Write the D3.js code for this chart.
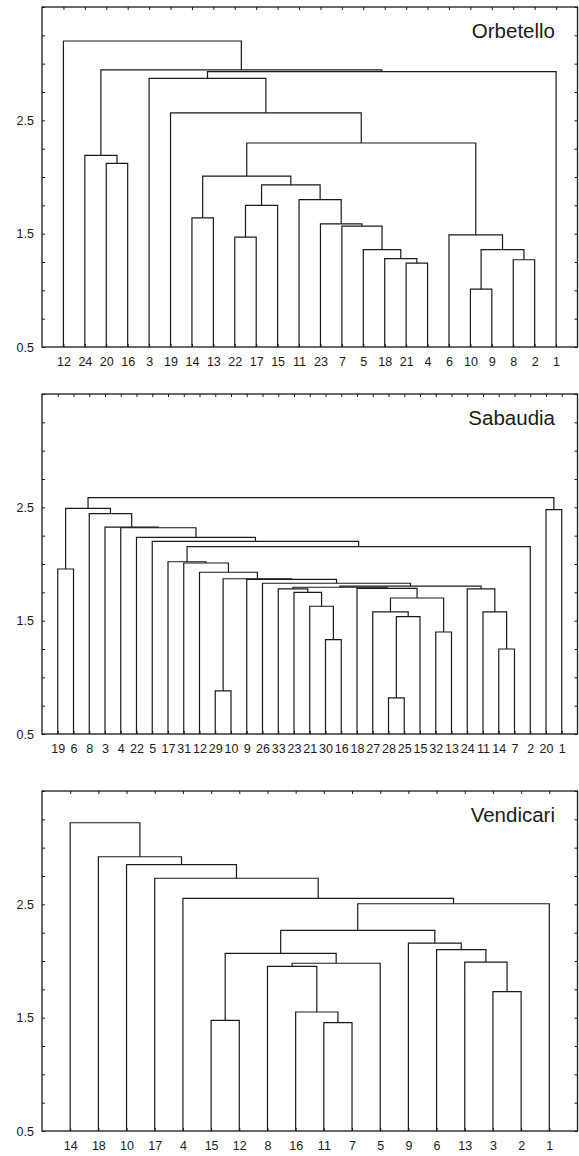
<!DOCTYPE html>
<html>
<head>
<meta charset="utf-8">
<script src="https://cdn.jsdelivr.net/npm/d3@7"></script>
<style>
  body { margin: 0; background: #fff; }
  svg { display: block; font-family: "Liberation Sans", Arial, sans-serif; }
</style>
</head>
<body>
<svg id="chart" width="579" height="1156"></svg>
<script>
// leaf order, left to right, and merge steps [left, right, linkage distance].
// "mN" points at merge N of the same list, plain numbers are leaves.
const orbetelloLeaves = [12,24,20,16,3,19,14,13,22,17,15,11,23,7,5,18,21,4,6,10,9,8,2,1];
const orbetelloMerges = [
  [20,16,2.12], [24,"m0",2.19], [14,13,1.64], [22,17,1.47], ["m3",15,1.75],
  [21,4,1.24], [18,"m5",1.28], [5,"m6",1.36], [7,"m7",1.566], [23,"m8",1.587],
  [11,"m9",1.80], ["m4","m10",1.93], ["m2","m11",2.007], [10,9,1.01], [8,2,1.27],
  ["m13","m14",1.36], [6,"m15",1.49], ["m12","m16",2.30], [19,"m17",2.565],
  [3,"m18",2.87], ["m19",1,2.93], ["m1","m20",2.945], [12,"m21",3.20]
];

const sabaudiaLeaves = [19,6,8,3,4,22,5,17,31,12,29,10,9,26,33,23,21,30,16,18,27,28,25,15,32,13,24,11,14,7,2,20,1];
const sabaudiaMerges = [
  [29,10,0.88], [30,16,1.333], [21,"m1",1.627], [23,"m2",1.75], [33,"m3",1.78],
  [28,25,0.818], ["m5",15,1.535], [27,"m6",1.578], [32,13,1.40], ["m7","m8",1.70],
  [18,"m9",1.785], [14,7,1.25], [11,"m11",1.578], [24,"m12",1.78], ["m4","m10",1.795],
  ["m14","m13",1.805], [26,"m15",1.83], [9,"m16",1.865], ["m0","m17",1.87],
  [12,"m18",1.927], [31,"m19",2.009], [17,"m20",2.02], ["m21",2,2.154], [5,"m22",2.2],
  [22,"m23",2.235], [4,"m24",2.32], [3,"m25",2.325], [8,"m26",2.445], [19,6,1.956],
  ["m28","m27",2.49], [20,1,2.48], ["m29","m30",2.585]
];

const vendicariLeaves = [14,18,10,17,4,15,12,8,16,11,7,5,9,6,13,3,2,1];
const vendicariMerges = [
  [15,12,1.476], [11,7,1.456], [16,"m1",1.55], [8,"m2",1.953], ["m3",5,1.98],
  ["m0","m4",2.067], [3,2,1.73], [13,"m6",1.99], [6,"m7",2.10], [9,"m8",2.158],
  ["m5","m9",2.27], ["m10",1,2.505], [4,"m11",2.553], [17,"m12",2.73],
  [10,"m13",2.85], [18,"m14",2.92], [14,"m15",3.22]
];

const siteNames = ["Orbetello", "Sabaudia", "Vendicari"];
const yLabels = [0.5, 1.5, 2.5];
const yDomain = [0.5, 3.5];

const panels = [
  {name: siteNames[0], leaves: orbetelloLeaves, merges: orbetelloMerges},
  {name: siteNames[1], leaves: sabaudiaLeaves, merges: sabaudiaMerges},
  {name: siteNames[2], leaves: vendicariLeaves, merges: vendicariMerges}
];

// layout
const panelTops = [7, 394, 791];
const panelH = 340;
const left = 42, right = 577.5;
const ink = "#1a1a1a";

const svg = d3.select("#chart");

function toTree(merges) {
  const ref = c => typeof c === "string" ? build(+c.slice(1)) : {name: c, h: yDomain[0]};
  function build(i) {
    const [a, b, h] = merges[i];
    return {h: h, children: [ref(a), ref(b)]};
  }
  return build(merges.length - 1);
}

panels.forEach((p, pi) => {
  const top = panelTops[pi];
  const bottom = top + panelH;
  const x = d3.scaleLinear().domain([0, p.leaves.length + 1]).range([left, right]);
  const y = d3.scaleLinear().domain(yDomain).range([bottom, top]);
  const g = svg.append("g");

  const root = d3.hierarchy(toTree(p.merges));
  root.eachAfter(n => {
    if (!n.children) n.pos = p.leaves.indexOf(n.data.name) + 1;
    else n.pos = d3.mean(n.children, c => c.pos);
  });

  // frame
  g.append("rect")
    .attr("x", left).attr("y", top)
    .attr("width", right - left).attr("height", panelH)
    .attr("fill", "none").attr("stroke", ink).attr("stroke-width", 1.3);

  const leafPos = d3.range(1, p.leaves.length + 1);
  const minor = d3.range(yDomain[0], yDomain[1] + 0.001, 0.25);

  // inward tick marks on all four sides
  g.append("g").attr("transform", `translate(${left},0)`)
    .call(d3.axisRight(y).tickValues(minor).tickSize(3).tickFormat(""));
  g.append("g").attr("transform", `translate(${right},0)`)
    .call(d3.axisLeft(y).tickValues(minor).tickSize(3).tickFormat(""));
  g.append("g").attr("transform", `translate(0,${top})`)
    .call(d3.axisBottom(x).tickValues(leafPos).tickSize(3).tickFormat(""));

  // y labels
  g.append("g").attr("transform", `translate(${left},0)`)
    .call(d3.axisLeft(y).tickValues(yLabels).tickSize(0).tickPadding(8).tickFormat(d3.format(".1f")))
    .selectAll("text").attr("font-size", 12.5).attr("fill", ink);

  // leaf labels
  g.append("g").attr("transform", `translate(0,${bottom})`)
    .call(d3.axisBottom(x).tickValues(leafPos).tickSizeInner(-3).tickSizeOuter(0)
      .tickFormat(i => p.leaves[i - 1]))
    .selectAll("text")
      .attr("y", 19).attr("dy", null)
      .attr("font-size", 12.5).attr("fill", ink);

  g.selectAll(".domain").remove();
  g.selectAll(".tick line").attr("stroke", ink);
  g.selectAll("text").attr("font-family", null);

  // dendrogram elbows
  g.append("g")
    .selectAll("path")
    .data(root.descendants().filter(n => n.children))
    .join("path")
      .attr("d", n => {
        const [c0, c1] = n.children;
        return `M${x(c0.pos)},${y(c0.data.h)}V${y(n.data.h)}H${x(c1.pos)}V${y(c1.data.h)}`;
      })
      .attr("fill", "none")
      .attr("stroke", ink)
      .attr("stroke-width", 1.2);

  // site name
  g.append("text")
    .attr("x", 555).attr("y", top + 31)
    .attr("text-anchor", "end")
    .attr("font-size", 20.5)
    .attr("fill", ink)
    .text(p.name);
});
</script>
</body>
</html>
